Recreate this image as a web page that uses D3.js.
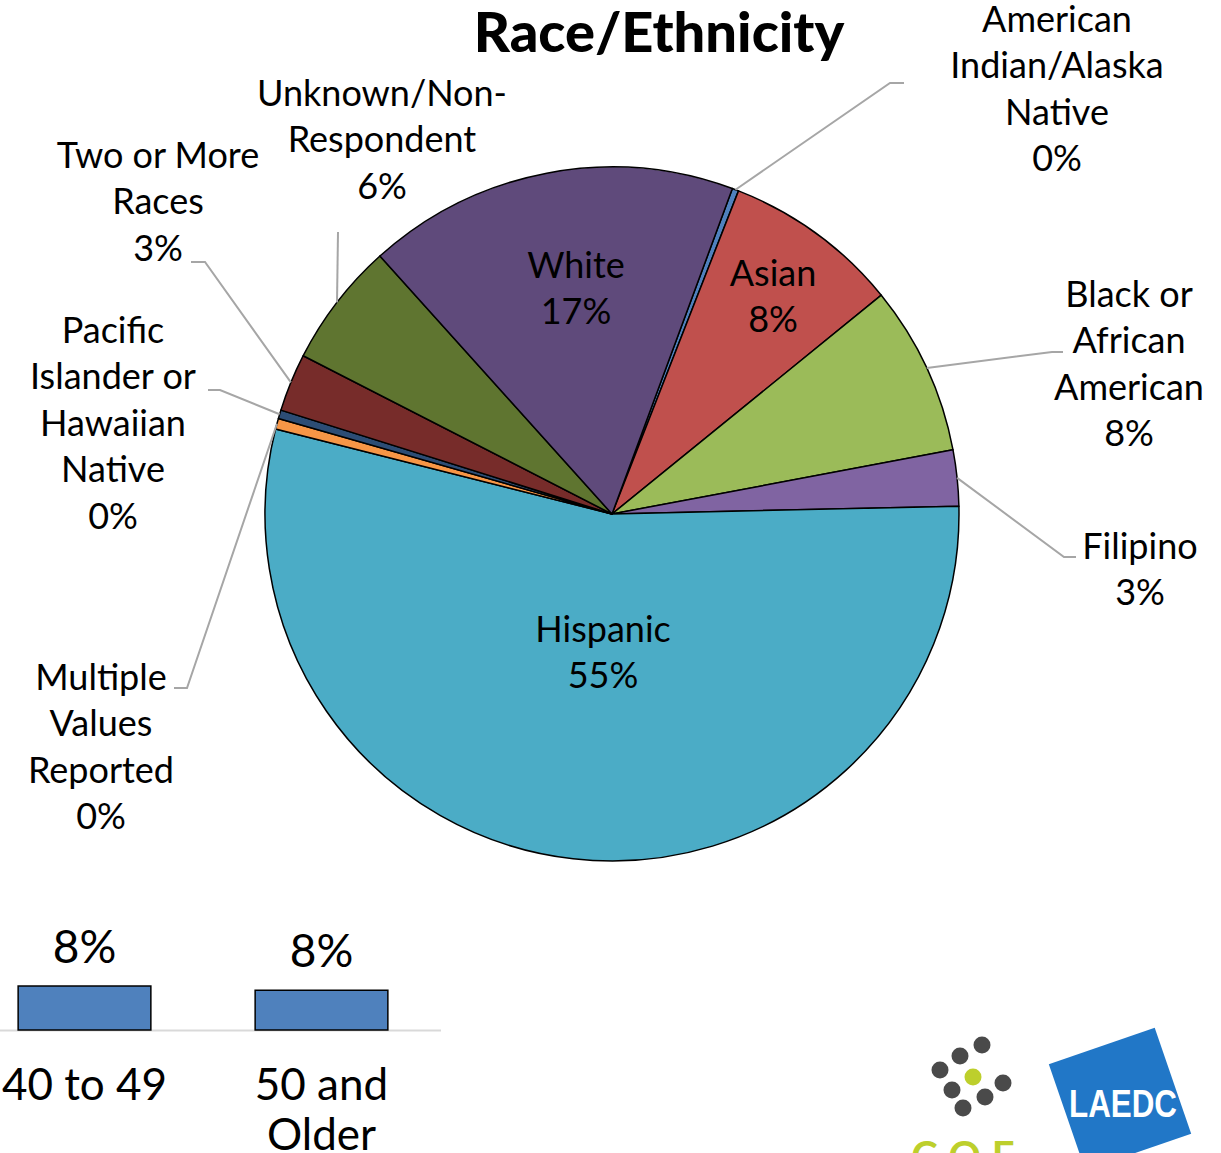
<!DOCTYPE html>
<html>
<head>
<meta charset="utf-8">
<script src="https://cdn.jsdelivr.net/npm/d3@7"></script>
<style>
  body { margin: 0; background: #fff; }
  svg text { font-family: Lato, "Open Sans", sans-serif; fill: #000; }
</style>
</head>
<body>
<script>
// pie data (alphabetical, clockwise like Excel)
var raceNames = ["American Indian/Alaska Native", "Asian", "Black or African American", "Filipino",
  "Hispanic", "Multiple Values Reported", "Pacific Islander or Hawaiian Native",
  "Two or More Races", "Unknown/Non-Respondent", "White"];
var raceValues = [0.3, 8.2, 7.9, 2.6, 54.3, 0.5, 0.4, 2.7, 5.8, 17.3];
var raceLabels = ["0%", "8%", "8%", "3%", "55%", "0%", "0%", "3%", "6%", "17%"];
var raceLines = [["American", "Indian/Alaska", "Native"], ["Asian"], ["Black or", "African", "American"],
  ["Filipino"], ["Hispanic"], ["Multiple", "Values", "Reported"], ["Pacific", "Islander or", "Hawaiian", "Native"],
  ["Two or More", "Races"], ["Unknown/Non-", "Respondent"], ["White"]];
var raceColors = ["#4F81BD", "#C0504D", "#9BBB59", "#8064A2", "#4BACC6", "#F79646",
  "#2C4D75", "#772C2A", "#5F7530", "#5F4A7B"];

// bar fragment (age chart cut off at the bottom)
var ageCats = ["40 to 49", "50 and Older"];
var ageValues = [8.3, 7.5];
var ageLabels = ["8%", "8%"];

// logo dots
var coeDots = [[982, 1045], [960, 1056], [940, 1070], [973, 1077, 1], [1003, 1083], [952, 1090], [985, 1097], [963, 1108]];

var W = 1221, H = 1153;
var svg = d3.select("body").append("svg").attr("width", W).attr("height", H);

// title
svg.append("text").attr("x", 659).attr("y", 52).attr("text-anchor", "middle")
  .style("font-size", "56px").style("font-weight", 900).text("Race/Ethnicity");

// ---- pie ----
var cx = 612, cy = 514, R = 347;
var start = 20.3 * Math.PI / 180;
var pie = d3.pie().sort(null).startAngle(start).endAngle(start + 2 * Math.PI);
var arcs = pie(raceValues);
var arc = d3.arc().innerRadius(0).outerRadius(R);
var edge = d3.arc().innerRadius(R).outerRadius(R);

var g = svg.append("g").attr("transform", "translate(" + cx + "," + cy + ")");
g.selectAll("path.slice").data(arcs).enter().append("path")
  .attr("class", "slice")
  .attr("d", arc)
  .attr("fill", function (d, i) { return raceColors[i]; })
  .attr("stroke", "#000").attr("stroke-width", 1.5).attr("stroke-linejoin", "round");

// label placement (page coords of first text line centre) and leader ends
var labelPos = [
  { x: 1057, y: 19, lead: [[890, 83], [904, 83]] },
  { x: 773, y: 273 },
  { x: 1129, y: 294, lead: [[1052, 352], [1063, 352]] },
  { x: 1140, y: 546, lead: [[1064, 557], [1076, 557]] },
  { x: 603, y: 629 },
  { x: 101, y: 677, lead: [[187, 688], [174, 688]] },
  { x: 113, y: 330, lead: [[220, 390], [208, 390]] },
  { x: 158, y: 155, lead: [[205, 262], [191, 262]] },
  { x: 382, y: 93, lead: [[338, 232]] },
  { x: 576, y: 265 }
];
var lineH = 46.5;

// leader lines
arcs.forEach(function (d, i) {
  var p = labelPos[i];
  if (!p.lead) return;
  var c = edge.centroid(d);
  var pts = [[cx + c[0], cy + c[1]]].concat(p.lead);
  svg.append("path").attr("d", d3.line()(pts))
    .attr("fill", "none").attr("stroke", "#A6A6A6").attr("stroke-width", 2);
});

// labels
arcs.forEach(function (d, i) {
  var p = labelPos[i];
  var lines = raceLines[i].concat([raceLabels[i]]);
  var t = svg.append("text").attr("text-anchor", "middle").style("font-size", "36px");
  lines.forEach(function (s, k) {
    t.append("tspan").attr("x", p.x).attr("y", p.y + k * lineH).attr("dy", "0.36em").text(s);
  });
});

// ---- bar fragment ----
var x = d3.scaleBand().domain(ageCats).range([-34, 440]).paddingInner(0.44).paddingOuter(0.22);
var y = d3.scaleLinear().domain([0, 10]).range([1030, 977]);
svg.append("line").attr("x1", 0).attr("x2", 441).attr("y1", y(0) + 0.5).attr("y2", y(0) + 0.5)
  .attr("stroke", "#D9D9D9").attr("stroke-width", 2);
svg.selectAll("rect.bar").data(ageValues).enter().append("rect")
  .attr("class", "bar")
  .attr("x", function (d, i) { return x(ageCats[i]); })
  .attr("width", x.bandwidth())
  .attr("y", function (d) { return y(d); })
  .attr("height", function (d) { return y(0) - y(d); })
  .attr("fill", "#4F81BD").attr("stroke", "#000").attr("stroke-width", 1.5);
svg.selectAll("text.bv").data(ageLabels).enter().append("text")
  .attr("class", "bv").attr("text-anchor", "middle").style("font-size", "46px")
  .attr("x", function (d, i) { return x(ageCats[i]) + x.bandwidth() / 2; })
  .attr("y", function (d, i) { return y(ageValues[i]) - 23; })
  .text(function (d) { return d; });
ageCats.forEach(function (c, i) {
  var words = c === "50 and Older" ? ["50 and", "Older"] : [c];
  var t = svg.append("text").attr("text-anchor", "middle").style("font-size", "44px");
  words.forEach(function (w, k) {
    t.append("tspan").attr("x", x(c) + x.bandwidth() / 2).attr("y", 1100 + k * 50).text(w);
  });
});

// ---- logos ----
svg.selectAll("circle.coe").data(coeDots).enter().append("circle")
  .attr("class", "coe").attr("cx", function (d) { return d[0]; }).attr("cy", function (d) { return d[1]; })
  .attr("r", 8.5).attr("fill", function (d) { return d[2] ? "#BDCF2C" : "#4A4A4A"; });
svg.append("text").attr("x", 963).attr("y", 1170).attr("text-anchor", "middle")
  .style("font-size", "40px").style("font-weight", 700).style("fill", "#BDCF2C")
  .text("C·O·E");

var lg = svg.append("g").attr("transform", "translate(1120,1099) rotate(-19)");
lg.append("rect").attr("x", -56).attr("y", -56).attr("width", 112).attr("height", 112).attr("fill", "#2177C7");
svg.append("text").attr("x", 1123).attr("y", 1117).attr("text-anchor", "middle")
  .attr("textLength", 108).attr("lengthAdjust", "spacingAndGlyphs")
  .style("font-family", "'Liberation Sans', Arial, sans-serif")
  .style("font-size", "38px").style("font-weight", 700).style("fill", "#fff").text("LAEDC");
</script>
</body>
</html>
